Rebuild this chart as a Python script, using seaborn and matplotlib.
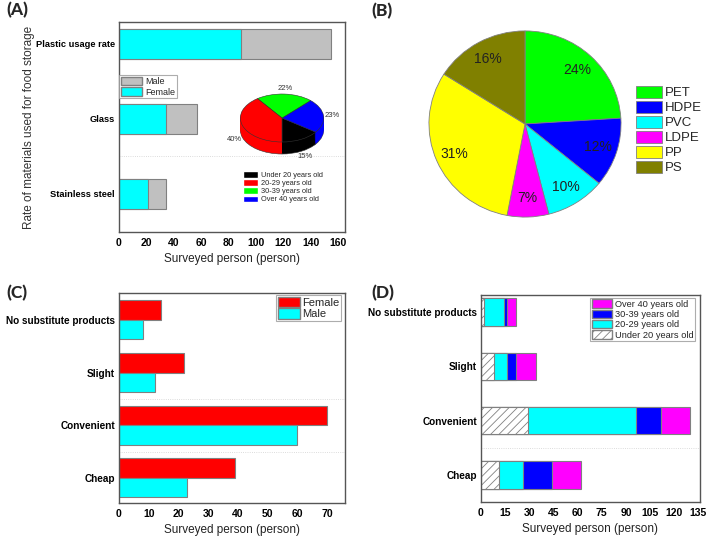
import numpy as np
import pandas as pd
import seaborn as sns
import matplotlib.pyplot as plt
from matplotlib.patches import Patch


# (A) materials used for food storage, stacked female + male
materials = ['Plastic usage rate', 'Glass', 'Stainless steel']
material_female = [89, 34, 21]
material_male = [66, 23, 13]

# (A) inset pie: age of the surveyed persons
age_groups = ['Under 20 years old', '20-29 years old',
              '30-39 years old', 'Over 40 years old']
age_share = [15, 40, 22, 23]
pie_order = [0, 3, 2, 1]  # counter-clockwise from the bottom

# (B) plastic types
plastics = ['PET', 'HDPE', 'PVC', 'LDPE', 'PP', 'PS']
plastic_share = [24, 12, 10, 7, 31, 16]

# (C) reasons for plastic use by gender
reasons = ['No substitute products', 'Slight', 'Convenient', 'Cheap']
reason_female = [14, 22, 70, 39]
reason_male = [8, 12, 60, 23]

# (D) reasons for plastic use by age group
reason_under20 = [2, 8, 29, 11]
reason_20s = [12, 8, 67, 15]
reason_30s = [2, 6, 16, 18]
reason_over40 = [6, 12, 18, 18]

CYAN = '#00FFFF'
GRAY = '#C0C0C0'
RED = '#FF0000'
GREEN = '#00FF00'
BLUE = '#0000FF'
MAGENTA = '#FF00FF'
YELLOW = '#FFFF00'
OLIVE = '#808000'
EDGE = '#808080'

sns.set_theme(style='white')
plt.rcParams['font.family'] = ['Liberation Sans', 'DejaVu Sans']
plt.rcParams['hatch.color'] = EDGE
plt.rcParams['hatch.linewidth'] = 0.6

W, H = 708, 536
fig = plt.figure(figsize=(W / 100, H / 100), dpi=100)


def px_axes(x0, y0, x1, y1):
    return fig.add_axes([x0 / W, 1 - y1 / H, (x1 - x0) / W, (y1 - y0) / H])


def style_bar_axes(ax, xmax, ticks, ysize):
    ax.set_xlim(0, xmax)
    ax.set_xticks(ticks)
    ax.tick_params(length=0, pad=3, colors='black')
    ax.tick_params(axis='x', labelsize=7.5, pad=4)
    ax.tick_params(axis='y', labelsize=ysize)
    for lab in ax.get_xticklabels() + ax.get_yticklabels():
        lab.set_fontweight('bold')
    for sp in ax.spines.values():
        sp.set_color('#555555')
        sp.set_linewidth(1.0)
    ax.set_xlabel('Surveyed person (person)', fontsize=8.5, color='#222222')
    ax.set_ylabel('')


def legend_box(handles, labels, anchor, loc, size, **kw):
    leg = fig.legend(handles, labels, loc=loc, bbox_to_anchor=anchor,
                     fontsize=size, fancybox=False, borderaxespad=0, **kw)
    leg.get_frame().set_edgecolor('#999999')
    leg.get_frame().set_linewidth(0.8)
    return leg


# ---------------- (A) ----------------
ax_a = px_axes(119, 22, 345, 232)
df_a = pd.DataFrame({'material': materials,
                     'female': material_female,
                     'total': np.add(material_female, material_male)})
bar_kw = dict(orient='h', width=0.4, saturation=1, errorbar=None,
              edgecolor=EDGE, linewidth=0.8)
sns.barplot(data=df_a, x='total', y='material', color=GRAY, ax=ax_a, **bar_kw)
sns.barplot(data=df_a, x='female', y='material', color=CYAN, ax=ax_a, **bar_kw)
ax_a.set_ylim(2.507, -0.293)
ax_a.axhline(1.5, color='#d0d0d0', lw=0.6, ls=':')
style_bar_axes(ax_a, 165, range(0, 161, 20), 6.7)
ax_a.set_ylabel('Rate of materials used for food storage', fontsize=8.5,
                color='#333333')
ax_a.yaxis.set_label_coords(-0.372, 0.5)
legend_box([Patch(fc=GRAY, ec=EDGE), Patch(fc=CYAN, ec=EDGE)],
           ['Male', 'Female'], (119 / W, 1 - 75 / H), 'upper left', 6.5,
           borderpad=0.2, handlelength=2.4, handleheight=1.1,
           handletextpad=0.3, labelspacing=0.1)

# inset 3D-looking pie
ax_in = px_axes(232, 84, 332, 165)
age_colors = ['black', RED, GREEN, BLUE]
vals = [age_share[i] for i in pie_order]
cols = [age_colors[i] for i in pie_order]
depth = 0.5
ax_in.pie(vals, colors=cols, startangle=-90, center=(0, -depth),
          wedgeprops=dict(edgecolor='#333333', linewidth=0.4))
for d in np.linspace(depth, 0.0, 14)[1:-1]:
    ax_in.pie(vals, colors=cols, startangle=-90, center=(0, -d),
              wedgeprops=dict(linewidth=0))
ax_in.pie(vals, colors=cols, startangle=-90,
          wedgeprops=dict(edgecolor='#333333', linewidth=0.4))
ax_in.set_aspect('auto')
ax_in.set_xlim(-1.2, 1.2)
ax_in.set_ylim(-1.958, 1.417)
bounds = -90 + 360 * np.cumsum([0] + vals) / sum(vals)
for v, a0, a1 in zip(vals, bounds[:-1], bounds[1:]):
    mid = np.deg2rad((a0 + a1) / 2)
    x, y = 1.2 * np.cos(mid), 1.25 * np.sin(mid)
    if y < 0:
        y -= depth
    ax_in.text(x, y, f'{v}%', ha='center', va='center', fontsize=5.5,
               color='#333333')
fig.legend([Patch(fc=c) for c in age_colors], age_groups, loc='upper left',
           bbox_to_anchor=(243 / W, 1 - 171 / H), frameon=False,
           fontsize=5.3, borderpad=0, borderaxespad=0, handlelength=2.0,
           handleheight=1.0, handletextpad=0.4, labelspacing=0.05)

# ---------------- (B) ----------------
ax_b = px_axes(428, 30, 622, 218)
plastic_colors = [GREEN, BLUE, CYAN, MAGENTA, YELLOW, OLIVE]
wedges, _, _ = ax_b.pie(plastic_share, colors=plastic_colors, startangle=90,
                        counterclock=False,
                        autopct=lambda p: f'{p:.0f}%', pctdistance=0.8,
                        wedgeprops=dict(edgecolor=EDGE, linewidth=0.6),
                        textprops=dict(fontsize=10, color='#222222'))
ax_b.set_aspect('auto')
ax_b.set_xlim(-1.01, 1.01)
ax_b.set_ylim(-1.01, 1.01)
fig.legend(wedges, plastics, loc='upper left',
           bbox_to_anchor=(636 / W, 1 - 86 / H), frameon=False,
           fontsize=9.5, borderpad=0, borderaxespad=0, handlelength=2.0,
           handleheight=1.0, handletextpad=0.2, labelspacing=0.12)

# ---------------- (C) ----------------
ax_c = px_axes(119, 293, 345, 503)
df_c = pd.DataFrame({'reason': reasons * 2,
                     'count': reason_female + reason_male,
                     'gender': ['Female'] * 4 + ['Male'] * 4})
sns.barplot(data=df_c, x='count', y='reason', hue='gender',
            hue_order=['Female', 'Male'], palette=[RED, CYAN], orient='h',
            width=0.74, saturation=1, errorbar=None, edgecolor=EDGE,
            linewidth=0.8, legend=False, ax=ax_c)
ax_c.set_ylim(3.475, -0.51)
for yy in (1.5, 2.5):
    ax_c.axhline(yy, color='#d0d0d0', lw=0.6, ls=':')
style_bar_axes(ax_c, 76, range(0, 71, 10), 7.2)
legend_box([Patch(fc=RED, ec=EDGE), Patch(fc=CYAN, ec=EDGE)],
           ['Female', 'Male'], (341 / W, 1 - 295 / H), 'upper right', 8,
           borderpad=0.15, handlelength=2.0, handleheight=1.1,
           handletextpad=0.2, labelspacing=0.05)

# ---------------- (D) ----------------
ax_d = px_axes(481, 295, 700, 502)
c1 = np.array(reason_under20)
c2 = c1 + reason_20s
c3 = c2 + reason_30s
c4 = c3 + reason_over40
df_d = pd.DataFrame({'reason': reasons, 'c1': c1, 'c2': c2, 'c3': c3,
                     'c4': c4})
bar_kw = dict(orient='h', width=0.5, saturation=1, errorbar=None,
              edgecolor=EDGE, linewidth=0.8)
for col, color in [('c4', MAGENTA), ('c3', BLUE), ('c2', CYAN),
                   ('c1', 'white')]:
    sns.barplot(data=df_d, x=col, y='reason', color=color, ax=ax_d, **bar_kw)
for p in ax_d.patches[-len(reasons):]:
    p.set_hatch('////')
ax_d.set_ylim(3.497, -0.313)
ax_d.axhline(2.5, color='#d0d0d0', lw=0.6, ls=':')
style_bar_axes(ax_d, 136, range(0, 136, 15), 7.2)
legend_box([Patch(fc=MAGENTA, ec=EDGE), Patch(fc=BLUE, ec=EDGE),
            Patch(fc=CYAN, ec=EDGE), Patch(fc='white', ec=EDGE, hatch='////')],
           ['Over 40 years old', '30-39 years old', '20-29 years old',
            'Under 20 years old'], (695 / W, 1 - 298 / H), 'upper right', 6.7,
           borderpad=0.15, handlelength=2.2, handleheight=1.05,
           handletextpad=0.3, labelspacing=0.08)

# panel letters
for txt, x, y in [('(A)', 6, 2), ('(B)', 371, 3), ('(C)', 6, 285),
                  ('(D)', 371, 285)]:
    fig.text(x / W, 1 - y / H, txt, fontsize=12.5, fontweight='black',
             family=['Lato', 'DejaVu Sans'], va='top', ha='left')

fig.savefig('out.png', dpi=100)
